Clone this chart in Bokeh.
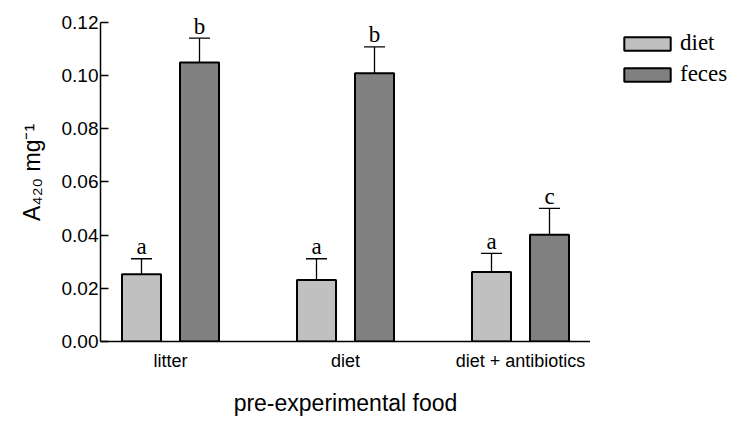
from bokeh.plotting import figure
from bokeh.layouts import row
from bokeh.models import (ColumnDataSource, FactorRange, Range1d, Whisker, TeeHead,
                          Legend, LegendItem, FixedTicker, NumeralTickFormatter)
from bokeh.transform import dodge
from bokeh.core.properties import value
from bokeh.embed import file_html
from bokeh.resources import INLINE

# ---- data ----
groups = ["litter", "diet", "diet + antibiotics"]
diet_mean = [0.0253, 0.0231, 0.0261]
diet_err = [0.0058, 0.0080, 0.0070]
feces_mean = [0.1048, 0.1008, 0.0401]
feces_err = [0.0092, 0.0099, 0.0099]
diet_letters = ["a", "a", "a"]
feces_letters = ["b", "b", "c"]
y_ticks = [0.00, 0.02, 0.04, 0.06, 0.08, 0.10, 0.12]
series_names = ["diet", "feces"]

LIGHT = "#c0c0c0"
DARK = "#808080"
SANS = "Liberation Sans"
SERIF = "Liberation Serif"

src_d = ColumnDataSource(dict(g=groups, mean=diet_mean,
                              upper=[m + e for m, e in zip(diet_mean, diet_err)],
                              lab=diet_letters))
src_f = ColumnDataSource(dict(g=groups, mean=feces_mean,
                              upper=[m + e for m, e in zip(feces_mean, feces_err)],
                              lab=feces_letters))

p = figure(x_range=FactorRange(factors=groups, range_padding=-0.1, range_padding_units="absolute"),
           y_range=Range1d(0, 0.127), title=None,
           width=590, height=418,
           min_border_left=100, min_border_right=0, min_border_top=1, min_border_bottom=75,
           output_backend="svg", toolbar_location=None)
p.outline_line_color = None
p.xgrid.grid_line_color = None
p.ygrid.grid_line_color = None
p.background_fill_color = "white"

OFF = 29 / 175
W = 39 / 175

bar_style_d = dict(fill_color=LIGHT, line_color="black", line_width=2)
bar_style_f = dict(fill_color=DARK, line_color="black", line_width=2)

p.vbar(x=dodge("g", -OFF, range=p.x_range), top="mean", width=W, bottom=0, source=src_d, **bar_style_d)
p.vbar(x=dodge("g", OFF, range=p.x_range), top="mean", width=W, bottom=0, source=src_f, **bar_style_f)

for src, off in ((src_d, -OFF), (src_f, OFF)):
    w = Whisker(base=dodge("g", off, range=p.x_range), upper="upper", lower="mean", source=src,
                lower_head=None, upper_head=TeeHead(size=21, line_width=1.3, line_color="black"),
                line_width=1.3, line_color="black", level="glyph")
    p.add_layout(w)
    p.text(x=dodge("g", off, range=p.x_range), y="upper", text="lab", source=src,
           y_offset=-12, text_align="center", text_baseline="alphabetic",
           text_font=value(SERIF), text_font_size="23px", text_color="black")

# axes
ya = p.yaxis[0]
ya.bounds = (0, 0.12)
ya.ticker = FixedTicker(ticks=y_ticks)
ya.formatter = NumeralTickFormatter(format="0.00")
ya.major_tick_in = 8
ya.major_tick_out = 0
ya.minor_tick_line_color = None
ya.axis_line_width = 1.5
ya.major_tick_line_width = 1.5
ya.major_label_standoff = 2
ya.major_label_text_font = SANS
ya.major_label_text_font_size = "19px"
ya.major_label_text_color = "black"
ya.axis_label = "A\u2084\u2082\u2080 mg\u207b\u00b9"
ya.axis_label_text_font = SANS
ya.axis_label_text_font_size = "23px"
ya.axis_label_text_font_style = "normal"
ya.axis_label_standoff = 14
ya.axis_label_text_color = "black"

xa = p.xaxis[0]
xa.major_tick_line_color = None
xa.major_tick_out = 0
xa.major_tick_in = 0
xa.axis_line_width = 1.5
xa.major_label_standoff = 9
xa.major_label_text_font = SANS
xa.major_label_text_font_size = "18px"
xa.major_label_text_color = "black"
xa.axis_label = "pre-experimental food"
xa.axis_label_text_font = SANS
xa.axis_label_text_font_size = "23px"
xa.axis_label_text_font_style = "normal"
xa.axis_label_standoff = 16
xa.axis_label_text_color = "black"

# legend panel (separate figure to the right)
p2 = figure(width=140, height=418, x_range=Range1d(0, 1), y_range=Range1d(0, 1), title=None,
            min_border_left=1, min_border_right=0, min_border_top=3, min_border_bottom=0,
            output_backend="svg", toolbar_location=None)
p2.axis.visible = False
p2.grid.visible = False
p2.outline_line_color = None
nan = float("nan")
swatch = ColumnDataSource(dict(x=[nan], top=[nan], bottom=[nan]))  # draws nothing: only feeds the legend swatches
l_d = p2.vbar(x="x", top="top", bottom="bottom", width=0.1, source=swatch, **bar_style_d)
l_f = p2.vbar(x="x", top="top", bottom="bottom", width=0.1, source=swatch, **bar_style_f)
legend = Legend(items=[LegendItem(label=series_names[0], renderers=[l_d]),
                       LegendItem(label=series_names[1], renderers=[l_f])],
                location="top_left", orientation="vertical",
                glyph_width=58, glyph_height=17, label_standoff=4, spacing=5,
                padding=0, margin=27, border_line_color=None, background_fill_alpha=0,
                label_text_font=SERIF, label_text_font_size="23px", label_text_color="black",
                label_height=17)
p2.add_layout(legend)

open("out.html", "w").write(file_html(row(p, p2), INLINE))
